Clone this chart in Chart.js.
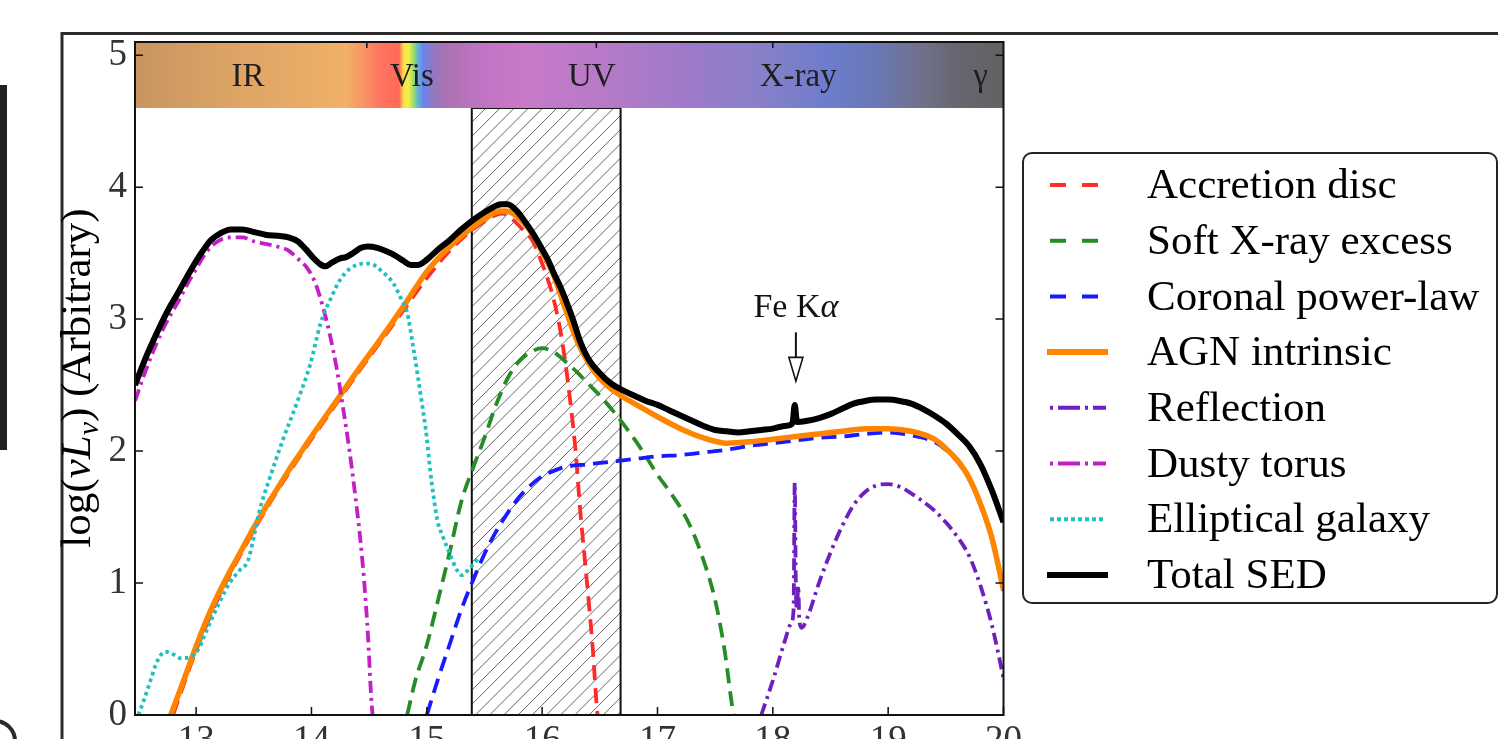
<!DOCTYPE html>
<html>
<head>
<meta charset="utf-8">
<script src="https://cdn.jsdelivr.net/npm/chart.js@4.4.0/dist/chart.umd.min.js"></script>
<style>
  html, body { margin: 0; padding: 0; background: #fff; overflow: hidden; }
  #wrap { position: relative; width: 1498px; height: 739px; overflow: hidden; }
</style>
</head>
<body>
<div id="wrap"><canvas id="sed" width="1498" height="780"></canvas></div>
<script>
// ---- data (log nu, log nuLnu) ----
const xTicks = [13, 14, 15, 16, 17, 18, 19, 20];
const yTicks = [0, 1, 2, 3, 4, 5];

const totalX = [12.47,12.55,12.63,12.7,12.77,12.85,12.92,13.0,13.06,13.13,13.21,13.3,13.4,13.5,13.6,13.73,13.8,13.88,13.95,14.01,14.07,14.12,14.18,14.25,14.3,14.36,14.43,14.49,14.57,14.66,14.73,14.8,14.86,14.92,15.0,15.1,15.2,15.3,15.4,15.5,15.58,15.64,15.7,15.78,15.85,15.92,16.0,16.05,16.1,16.16,16.22,16.27,16.33,16.4,16.5,16.6,16.7,16.8,16.9,17.0,17.1,17.2,17.3,17.4,17.5,17.6,17.7,17.8,17.9,18.0,18.1,18.17,18.19,18.21,18.3,18.4,18.5,18.6,18.7,18.8,18.9,19.0,19.1,19.2,19.3,19.4,19.5,19.6,19.7,19.8,19.9,20.0];
const totalY = [2.50,2.68,2.84,2.97,3.09,3.21,3.32,3.44,3.52,3.60,3.65,3.68,3.68,3.66,3.64,3.63,3.62,3.59,3.53,3.47,3.42,3.40,3.43,3.46,3.47,3.50,3.54,3.55,3.54,3.51,3.48,3.44,3.41,3.41,3.45,3.53,3.60,3.68,3.75,3.81,3.85,3.87,3.87,3.82,3.74,3.65,3.53,3.45,3.35,3.24,3.11,2.99,2.83,2.70,2.59,2.51,2.46,2.42,2.38,2.35,2.31,2.27,2.23,2.19,2.16,2.15,2.14,2.15,2.16,2.17,2.19,2.21,2.35,2.22,2.23,2.25,2.28,2.32,2.36,2.38,2.39,2.39,2.38,2.36,2.32,2.27,2.21,2.13,2.04,1.90,1.70,1.46];

const agnX = [12.78,12.9,13.0,13.1,13.2,13.3,13.4,13.5,13.6,13.7,13.8,13.9,14.0,14.2,14.4,14.6,14.8,15.0,15.2,15.4,15.5,15.6,15.68,15.75,15.85,15.92,16.0,16.1,16.2,16.3,16.4,16.5,16.6,16.7,16.8,16.9,17.0,17.2,17.4,17.6,17.8,18.0,18.2,18.4,18.6,18.8,19.0,19.2,19.4,19.5,19.6,19.7,19.8,19.9,20.0];
const agnY = [0.00,0.28,0.52,0.74,0.93,1.10,1.26,1.42,1.57,1.71,1.85,1.98,2.11,2.36,2.61,2.85,3.10,3.36,3.55,3.70,3.76,3.81,3.82,3.80,3.72,3.64,3.51,3.33,3.08,2.84,2.67,2.55,2.47,2.41,2.36,2.31,2.26,2.17,2.10,2.06,2.07,2.09,2.11,2.13,2.15,2.17,2.17,2.15,2.09,2.02,1.93,1.80,1.60,1.34,0.95];

const discX = [12.8,12.9,13.0,13.2,13.4,13.6,13.8,14.0,14.2,14.4,14.6,14.8,15.0,15.2,15.4,15.5,15.6,15.66,15.75,15.85,15.92,16.0,16.05,16.1,16.15,16.2,16.25,16.29,16.33,16.37,16.41,16.44,16.47,16.48];
const discY = [0.00,0.25,0.49,0.90,1.24,1.55,1.83,2.09,2.34,2.59,2.83,3.07,3.31,3.52,3.68,3.74,3.79,3.80,3.75,3.66,3.59,3.42,3.30,3.15,2.95,2.68,2.33,2.00,1.55,1.18,0.80,0.49,0.10,0.00];

const softX = [14.83,14.9,15.0,15.1,15.2,15.3,15.4,15.5,15.6,15.7,15.8,15.9,16.0,16.1,16.2,16.3,16.4,16.5,16.6,16.7,16.8,16.9,17.0,17.1,17.2,17.3,17.4,17.5,17.58,17.65,17.66];
const softY = [0.00,0.26,0.53,0.88,1.24,1.62,1.87,2.10,2.35,2.55,2.68,2.75,2.78,2.75,2.68,2.60,2.51,2.42,2.32,2.21,2.09,1.96,1.82,1.70,1.57,1.40,1.17,0.87,0.50,0.05,0.00];

const coronaX = [15.0,15.1,15.2,15.3,15.4,15.5,15.6,15.7,15.8,15.9,16.0,16.1,16.2,16.4,16.6,16.8,17.0,17.2,17.4,17.6,17.8,18.0,18.2,18.4,18.6,18.8,19.0,19.2,19.4,19.5,19.6,19.7,19.8,19.9,20.0];
const coronaY = [0.00,0.28,0.54,0.80,1.02,1.22,1.39,1.53,1.65,1.74,1.81,1.85,1.88,1.90,1.92,1.94,1.96,1.97,1.99,2.01,2.04,2.06,2.08,2.10,2.11,2.13,2.14,2.12,2.07,2.01,1.92,1.79,1.59,1.33,0.94];

const reflX = [17.9,18.0,18.1,18.16,18.18,18.19,18.2,18.21,18.22,18.23,18.25,18.3,18.4,18.5,18.6,18.7,18.8,18.9,19.0,19.1,19.2,19.3,19.4,19.5,19.6,19.7,19.8,19.9,20.0];
const reflY = [0.00,0.26,0.55,0.70,0.80,1.76,0.95,0.80,0.98,0.72,0.66,0.74,1.00,1.23,1.43,1.59,1.69,1.74,1.75,1.73,1.68,1.62,1.55,1.46,1.35,1.21,0.98,0.68,0.28];

const torusX = [12.47,12.55,12.63,12.7,12.77,12.85,12.92,13.0,13.06,13.13,13.21,13.3,13.4,13.5,13.6,13.7,13.8,13.88,13.96,14.03,14.1,14.16,14.22,14.27,14.33,14.38,14.42,14.46,14.49,14.52,14.53];
const torusY = [2.38,2.58,2.76,2.90,3.02,3.14,3.26,3.38,3.47,3.55,3.60,3.62,3.62,3.59,3.57,3.55,3.52,3.46,3.39,3.28,3.09,2.88,2.62,2.35,2.00,1.66,1.36,0.98,0.60,0.10,0.00];

const galaxyX = [12.5,12.55,12.6,12.65,12.69,12.73,12.8,12.87,12.95,13.02,13.1,13.2,13.29,13.38,13.45,13.5,13.55,13.64,13.75,13.88,13.99,14.08,14.18,14.25,14.33,14.45,14.51,14.6,14.71,14.78,14.83,14.88,14.92,14.96,15.0,15.03,15.06,15.09,15.14,15.2,15.26,15.3,15.36,15.42,15.46];
const galaxyY = [0.00,0.12,0.25,0.38,0.45,0.48,0.46,0.43,0.44,0.50,0.66,0.85,1.00,1.10,1.17,1.35,1.55,1.80,2.08,2.38,2.66,2.97,3.18,3.30,3.38,3.42,3.42,3.37,3.27,3.15,3.05,2.80,2.58,2.35,2.10,1.85,1.65,1.48,1.35,1.22,1.10,1.06,1.10,1.16,1.20];

// spectral band strip along the top
const bandLabels = ['IR', 'Vis', 'UV', 'X-ray', 'γ'];
const bandLabelX = [13.45, 14.87, 16.43, 18.22, 19.8];
const bandStopX = [12.47,13.4,14.1,14.3,14.45,14.6,14.76,14.8,14.84,14.88,14.92,14.97,15.05,15.18,15.5,15.85,16.5,17.2,17.9,18.5,18.9,19.3,19.6,20];
const bandStopColor = ['#c8955f','#dea566','#ecae66','#f2b068','#f79464','#ff7462','#ff6a58','#ffe04a','#eef04a','#a8e05a','#60b8d0','#6a84f0','#9078c0','#ac72b0','#c274c4','#c87ac8','#b87ac8','#a07ac8','#8880c8','#6c7ccc','#6a78b4','#70708a','#666670','#626262'];
const bandRange = [4.6, 5.1];
const hatchRange = [15.39, 16.68];
const topTickX = [14.48, 16.47, 18.0];

const SERIF = '"Liberation Serif", "Times New Roman", serif';

function series(label, xs, ys, color, width, dash, legendDash, order) {
  return {
    label,
    data: xs.map((x, i) => ({ x, y: ys[i] })),
    borderColor: color,
    borderWidth: width,
    borderDash: dash,
    legendDash,
    borderJoinStyle: 'round',
    pointRadius: 0,
    fill: false,
    cubicInterpolationMode: 'monotone',
    order
  };
}

const datasets = [
  series('Accretion disc', discX, discY, '#ff2a2a', 3.8, [15, 8], [16, 16], 7),
  series('Soft X-ray excess', softX, softY, '#268c26', 3.8, [15, 8], [16, 16], 6),
  series('Coronal power-law', coronaX, coronaY, '#1a1aff', 3.8, [15, 8], [16, 16], 5),
  series('AGN intrinsic', agnX, agnY, '#ff8400', 5.5, [], [], 4),
  series('Reflection', reflX, reflY, '#6e1fc0', 3.8, [12, 5, 3, 5], [3, 5, 22, 5], 3),
  series('Dusty torus', torusX, torusY, '#c21fc6', 3.8, [12, 5, 3, 5], [3, 5, 22, 5], 2),
  series('Elliptical galaxy', galaxyX, galaxyY, '#1fc0c0', 3.8, [3.5, 3.5], [4, 3], 1),
  series('Total SED', totalX, totalY, '#000000', 6, [], [], 0)
];

// ===== background: figure frame & band strip & hatch =====
const decor = {
  id: 'decor',
  beforeDraw(chart) {
    const c = chart.ctx;
    c.save();
    c.fillStyle = '#fff';
    c.fillRect(0, 0, chart.width, chart.height);
    // outer figure frame
    c.strokeStyle = '#2b2b2b';
    c.lineWidth = 3;
    c.beginPath();
    c.moveTo(62, 800); c.lineTo(62, 33.5); c.lineTo(1500, 33.5);
    c.stroke();
    // screen bits at the left edge
    c.fillStyle = '#231f20';
    c.fillRect(0, 85, 7, 365);
    c.lineWidth = 4;
    c.beginPath();
    c.arc(-5, 741, 20, -Math.PI / 2, 0.2);
    c.stroke();
    c.restore();
  },
  beforeDatasetsDraw(chart) {
    const c = chart.ctx, xs = chart.scales.x, ys = chart.scales.y;
    const a = chart.chartArea;
    c.save();
    // hatched band
    const hx0 = xs.getPixelForValue(hatchRange[0]), hx1 = xs.getPixelForValue(hatchRange[1]);
    const hy0 = ys.getPixelForValue(bandRange[0]), hy1 = ys.getPixelForValue(0);
    c.save();
    c.beginPath(); c.rect(hx0, hy0, hx1 - hx0, hy1 - hy0); c.clip();
    c.strokeStyle = '#666'; c.lineWidth = 1;
    const h = hy1 - hy0;
    for (let k = -h; k < hx1 - hx0 + 14; k += 14.2) {
      c.beginPath();
      c.moveTo(hx0 + k, hy1);
      c.lineTo(hx0 + k + h, hy0);
      c.stroke();
    }
    c.restore();
    c.strokeStyle = '#111'; c.lineWidth = 2;
    c.strokeRect(hx0, hy0, hx1 - hx0, hy1 - hy0);

    // colour strip
    const by0 = ys.getPixelForValue(bandRange[1]), by1 = ys.getPixelForValue(bandRange[0]);
    const g = c.createLinearGradient(a.left, 0, a.right, 0);
    bandStopX.forEach((v, i) => {
      const f = (xs.getPixelForValue(v) - a.left) / (a.right - a.left);
      g.addColorStop(Math.min(1, Math.max(0, f)), bandStopColor[i]);
    });
    c.fillStyle = g;
    c.fillRect(a.left, by0, a.right - a.left, by1 - by0);
    c.font = '33px ' + SERIF;
    c.fillStyle = '#1e1e1e';
    c.textAlign = 'center';
    c.textBaseline = 'middle';
    const ly = ys.getPixelForValue(4.85) + 2;
    bandLabels.forEach((t, i) => c.fillText(t, xs.getPixelForValue(bandLabelX[i]), ly));
    c.restore();
  }
};

// ===== foreground: axes frame, ticks, annotation, legend, y label =====
function drawPieces(c, pieces, x, y, align) {
  let w = 0;
  pieces.forEach(p => { c.font = p.font; w += c.measureText(p.t).width; });
  let cx = align === 'center' ? x - w / 2 : x;
  pieces.forEach(p => {
    c.font = p.font;
    c.fillText(p.t, cx, y + (p.dy || 0));
    cx += c.measureText(p.t).width;
  });
}

const overlay = {
  id: 'overlay',
  afterDatasetsDraw(chart) {
    const c = chart.ctx, xs = chart.scales.x, ys = chart.scales.y;
    const a = chart.chartArea;
    c.save();
    // spines
    c.strokeStyle = '#111'; c.lineWidth = 2;
    c.strokeRect(a.left, a.top, a.right - a.left, a.bottom - a.top);
    // inward ticks
    c.lineWidth = 1.5;
    c.beginPath();
    xTicks.forEach(v => {
      const px = xs.getPixelForValue(v);
      c.moveTo(px, a.bottom); c.lineTo(px, a.bottom - 8);
    });
    topTickX.forEach(v => {
      const px = xs.getPixelForValue(v);
      c.moveTo(px, a.top); c.lineTo(px, a.top + 6);
    });
    yTicks.forEach(v => {
      const py = ys.getPixelForValue(v);
      c.moveTo(a.left, py); c.lineTo(a.left + 8, py);
      c.moveTo(a.right, py); c.lineTo(a.right - 8, py);
    });
    c.stroke();

    // Fe K alpha marker
    const fx = xs.getPixelForValue(18.2);
    c.fillStyle = '#111';
    c.textBaseline = 'middle';
    drawPieces(c, [
      { t: 'Fe K', font: '34px ' + SERIF },
      { t: 'α', font: 'italic 34px ' + SERIF }
    ], fx, ys.getPixelForValue(3.08), 'center');
    const sTop = ys.getPixelForValue(2.9), hTop = ys.getPixelForValue(2.71), tip = ys.getPixelForValue(2.53);
    c.strokeStyle = '#111'; c.lineWidth = 2;
    c.beginPath(); c.moveTo(fx, sTop); c.lineTo(fx, hTop); c.stroke();
    c.beginPath();
    c.moveTo(fx - 7, hTop); c.lineTo(fx + 7, hTop); c.lineTo(fx, tip); c.closePath();
    c.fillStyle = '#fff'; c.fill();
    c.lineWidth = 1.6; c.stroke();

    // legend
    const L = { x: 1023, y: 153, w: 474, h: 450, r: 9 };
    c.beginPath();
    c.roundRect(L.x, L.y, L.w, L.h, L.r);
    c.fillStyle = '#fff'; c.fill();
    c.strokeStyle = '#222'; c.lineWidth = 2; c.stroke();
    chart.data.datasets.forEach((d, row) => {
      const ry = 185 + row * 55.7;
      c.save();
      c.strokeStyle = d.borderColor;
      const solid = d.legendDash.length === 0;
      c.lineWidth = solid ? 6 : 4;
      c.setLineDash(d.legendDash);
      c.beginPath();
      c.moveTo(solid ? 1047 : 1050, ry);
      c.lineTo(solid ? 1108 : 1106, ry);
      c.stroke();
      c.restore();
      c.fillStyle = '#000';
      c.font = '43px ' + SERIF;
      c.textAlign = 'left';
      c.textBaseline = 'middle';
      c.fillText(d.label, 1147, ry + 2);
    });

    // y axis label
    c.save();
    c.translate(90, 378);
    c.rotate(-Math.PI / 2);
    c.fillStyle = '#000';
    c.textAlign = 'left';
    c.textBaseline = 'alphabetic';
    drawPieces(c, [
      { t: 'log(', font: '43px ' + SERIF },
      { t: 'νL', font: 'italic 43px ' + SERIF },
      { t: 'ν', font: 'italic 30px ' + SERIF, dy: 8 },
      { t: ') (Arbitrary)', font: '43px ' + SERIF }
    ], 0, 0, 'center');
    c.restore();
    c.restore();
  }
};

new Chart(document.getElementById('sed'), {
  type: 'line',
  data: { datasets },
  options: {
    responsive: false,
    animation: false,
    events: [],
    layout: { padding: { top: 42, left: 0, right: 494.5, bottom: 0 } },
    plugins: { legend: { display: false }, tooltip: { enabled: false } },
    scales: {
      x: {
        type: 'linear', min: 12.47, max: 20,
        afterBuildTicks: s => { s.ticks = xTicks.map(v => ({ value: v })); },
        afterFit: s => { s.height = 65; },
        grid: { display: false, drawTicks: false },
        border: { display: false },
        ticks: { font: { family: SERIF, size: 37 }, color: '#333', padding: 4, maxRotation: 0, autoSkip: false }
      },
      y: {
        type: 'linear', min: 0, max: 5.1,
        afterBuildTicks: s => { s.ticks = yTicks.map(v => ({ value: v })); },
        afterFit: s => { s.width = 135; },
        grid: { display: false, drawTicks: false },
        border: { display: false },
        ticks: { font: { family: SERIF, size: 37 }, color: '#333', padding: 8 }
      }
    }
  },
  plugins: [decor, overlay]
});
</script>
</body>
</html>
